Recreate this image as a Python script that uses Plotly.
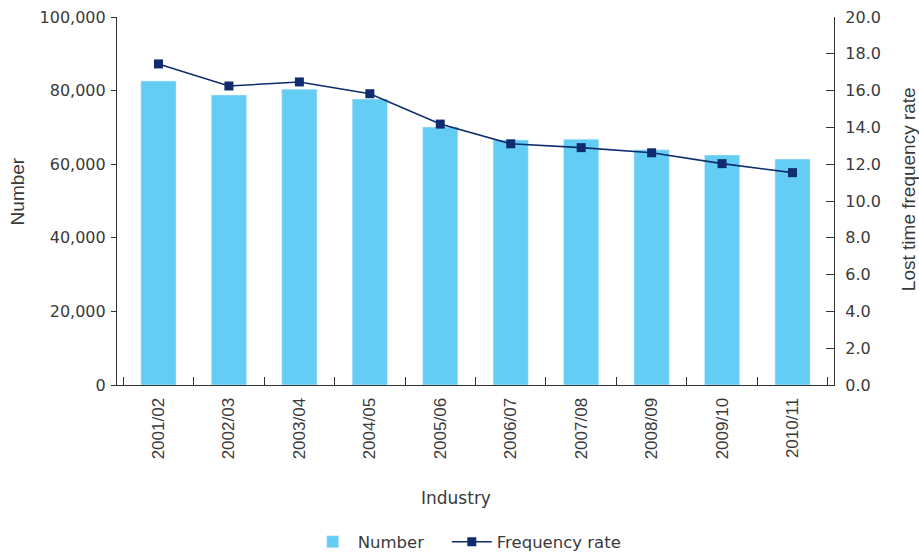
import plotly.graph_objects as go

years = ["2001/02", "2002/03", "2003/04", "2004/05", "2005/06",
         "2006/07", "2007/08", "2008/09", "2009/10", "2010/11"]
number = [82600, 78800, 80400, 77700, 70100, 66600, 66800, 63900, 62500, 61400]
freq_rate = [17.45, 16.25, 16.47, 15.83, 14.18, 13.11, 12.90, 12.62, 12.03, 11.54]

left_ticks = [0, 20000, 40000, 60000, 80000, 100000]
left_labels = ["0", "20,000", "40,000", "60,000", "80,000", "100,000"]
right_ticks = [0, 2, 4, 6, 8, 10, 12, 14, 16, 18, 20]

fig = go.Figure()
fig.add_trace(go.Bar(x=years, y=number, name="Number", marker_color="#63CDF3",
                     width=0.5, yaxis="y", legend="legend"))
fig.add_trace(go.Scatter(x=years, y=freq_rate, name="Frequency rate", yaxis="y2",
                         mode="lines+markers", legend="legend2",
                         line=dict(color="#0F2D6E", width=1.6),
                         marker=dict(symbol="square", size=9, color="#0F2D6E")))

font_col = "#3a3a3a"
wide = "DejaVu Sans, Verdana, sans-serif"
narrow = "Liberation Sans, Arial, sans-serif"
fig.update_layout(
    width=919, height=553,
    margin=dict(l=117, r=85, t=17, b=168, autoexpand=False),
    paper_bgcolor="white", plot_bgcolor="white",
    font=dict(family=wide, size=16, color=font_col),
    showlegend=True,
    legend=dict(orientation="h", x=0.266, xanchor="left", y=-0.4266, yanchor="middle",
                font=dict(family=wide, size=16.5, color=font_col), itemwidth=40),
    legend2=dict(orientation="h", x=0.460, xanchor="left", y=-0.4266, yanchor="middle",
                 font=dict(family=wide, size=16.5, color=font_col), itemwidth=40),
    bargap=0.5,
    xaxis=dict(
        automargin=False,
        tickangle=-90, showline=True, linecolor="#333", linewidth=1.2,
        ticks="inside", ticklen=8, tickcolor="#333", tickson="boundaries",
        ticklabelstandoff=5,
        showgrid=False, tickfont=dict(family=narrow, size=17),
    ),
    yaxis=dict(
        automargin=False,
        range=[0, 100000], tickvals=left_ticks, ticktext=left_labels,
        showline=True, linecolor="#333", linewidth=1.2,
        ticks="outside", ticklen=5, tickcolor="#333", ticklabelstandoff=2,
        ticklabeloverflow="allow",
        showgrid=False, zeroline=False, tickfont=dict(family=wide, size=16),
    ),
    yaxis2=dict(
        automargin=False,
        overlaying="y", side="right",
        range=[0, 20], tickvals=right_ticks, tickformat=".1f",
        showline=True, linecolor="#333", linewidth=1.2,
        ticks="inside", ticklen=8, tickcolor="#333", ticklabelstandoff=7,
        ticklabeloverflow="allow",
        showgrid=False, zeroline=False, tickfont=dict(family=wide, size=16),
    ),
    annotations=[
        dict(text="Number", xref="paper", yref="paper", x=-0.139, y=0.527,
             textangle=-90, showarrow=False, font=dict(family=narrow, size=19),
             xanchor="center", yanchor="middle"),
        dict(text="Lost time frequency rate", xref="paper", yref="paper", x=1.105, y=0.533,
             textangle=-90, showarrow=False, font=dict(family=narrow, size=19),
             xanchor="center", yanchor="middle"),
        dict(text="Industry", xref="paper", yref="paper", x=0.473, y=-0.307,
             showarrow=False, font=dict(family=wide, size=17),
             xanchor="center", yanchor="middle"),
    ],
)

fig.write_html(
    "out.html",
    config={"displayModeBar": False},
    post_script="document.body.style.margin='0';document.body.style.overflow='hidden';",
)
